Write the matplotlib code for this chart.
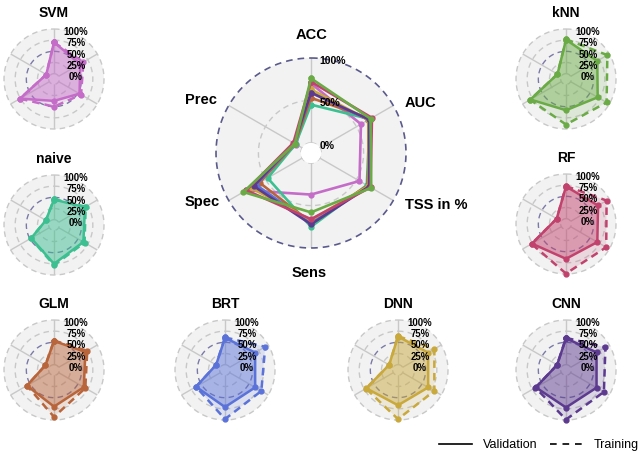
import matplotlib
matplotlib.use("Agg")
import matplotlib.pyplot as plt
from matplotlib.lines import Line2D
from matplotlib.patches import Circle
import numpy as np

plt.rcParams['font.family'] = ['Liberation Sans', 'DejaVu Sans']

categories = ['ACC', 'AUC', 'TSS in %', 'Sens', 'Spec', 'Prec']
models = ['SVM', 'naive', 'GLM', 'BRT', 'DNN', 'CNN', 'RF', 'kNN']
colors = ['#c46cc8', '#3cbf91', '#b9653b', '#5b73d9', '#c9a83c', '#5c3a8f', '#c2426e', '#6aab46']

# validation scores in %, order of categories
val_svm = [70, 56, 54, 37, 76, 8]
val_naive = [45, 68, 64, 75, 47, 9]
val_glm = [53, 69, 65, 70, 58, 10]
val_brt = [60, 66, 66, 71, 63, 11]
val_dnn = [63, 66, 66, 67, 70, 11]
val_cnn = [59, 67, 67, 72, 66, 11]
val_rf = [72, 71, 69, 66, 76, 12]
val_knn = [76, 69, 70, 58, 80, 10]

# training scores in %
tr_svm = [70, 64, 58, 50, 76, 8]
tr_naive = [46, 70, 67, 78, 48, 9]
tr_glm = [54, 74, 69, 93, 58, 10]
tr_brt = [61, 92, 82, 98, 63, 11]
tr_dnn = [64, 82, 82, 98, 71, 11]
tr_cnn = [60, 90, 86, 99, 67, 11]
tr_rf = [73, 93, 92, 99, 77, 12]
tr_knn = [77, 95, 93, 90, 81, 10]

validation = [val_svm, val_naive, val_glm, val_brt, val_dnn, val_cnn, val_rf, val_knn]
training = [tr_svm, tr_naive, tr_glm, tr_brt, tr_dnn, tr_cnn, tr_rf, tr_knn]

big_ticks = [100, 50, 0]
small_ticks = [100, 75, 50, 25, 0]

W, H = 640, 455
R0 = 12  # radial offset of the 0% ring
angles = np.linspace(0, 2 * np.pi, len(categories), endpoint=False)
closed = np.concatenate([angles, angles[:1]])
circ = np.linspace(0, 2 * np.pi, 300)

fig = plt.figure(figsize=(6.4, 4.55), dpi=100)


def make_radar(cx, cy, r, hole=True):
    ax = fig.add_axes([(cx - r) / W, 1 - (cy + r) / H, 2 * r / W, 2 * r / H], projection='polar')
    ax.set_theta_offset(np.pi / 2)
    ax.set_theta_direction(-1)
    ax.set_rorigin(-R0)
    ax.set_ylim(0, 100)
    ax.set_xticks([])
    ax.set_yticks([])
    ax.grid(False)
    # the inner spine gets switched back on at draw time, so hide its colour
    for s in ax.spines.values():
        s.set_edgecolor('none')
        s.set_visible(False)
    ax.patch.set_edgecolor('none')
    if hole:
        ax.set_facecolor('#f2f2f2')
    else:
        ax.set_facecolor('none')
        ax.add_patch(Circle((0.5, 0.5), 0.5, transform=ax.transAxes, clip_on=False,
                            facecolor='#f2f2f2', edgecolor='none', zorder=0))
    for a in angles:
        ax.plot([a, a], [0, 100], color='#c8c8c8', lw=1, zorder=1)
    return ax


def close(v):
    return np.concatenate([v, v[:1]])


# ---- big chart
bcx, bcy, br = 311, 153, 95
ax = make_radar(bcx, bcy, br)
ax.plot(circ, np.full_like(circ, 0), color='#c8c8c8', lw=1, ls=(0, (4, 3)), zorder=1)
ax.plot(circ, np.full_like(circ, 50), color='#c8c8c8', lw=1, ls=(0, (4, 3)), zorder=1)
ax.plot(circ, np.full_like(circ, 100), color='#5a5a8c', lw=1.2, ls=(0, (4, 3)), zorder=1, clip_on=False)
for m, c, v in zip(models, colors, validation):
    ax.plot(closed, close(np.array(v)), color=c, lw=1.9, marker='o', ms=3.5, zorder=3)
for t in big_ticks:
    frac = (t + R0) / (100 + R0)
    ax.text(0.545, 0.5 + (frac * br - 3) / (2 * br), f'{t}%', transform=ax.transAxes,
            ha='left', va='center', fontsize=7.5, fontweight='bold', zorder=5)

label_pos = [(1, -118, 'center'), (110, -50, 'center'), (94, 52, 'left'),
             (-2, 120, 'center'), (-109, 49, 'center'), (-110, -53, 'center')]
for lab, (dx, dy, ha) in zip(categories, label_pos):
    ax.text(0.5 + dx / (2 * br), 0.5 - dy / (2 * br), lab, transform=ax.transAxes,
            ha=ha, va='center', fontsize=10.5, fontweight='bold')

# ---- small charts
centers = {'SVM': (54, 79), 'naive': (54, 225), 'GLM': (54, 370),
           'BRT': (225, 370), 'DNN': (398, 370), 'CNN': (566, 370),
           'RF': (566, 224), 'kNN': (566, 79)}
sr = 50
for m, c, v, tr in zip(models, colors, validation, training):
    cx, cy = centers[m]
    ax = make_radar(cx, cy, sr, hole=False)
    for lev in [0, 25, 75, 100]:
        ax.plot(circ, np.full_like(circ, lev), color='#c8c8c8', lw=1, ls=(0, (4, 3)), zorder=1, clip_on=False)
    ax.plot(circ, np.full_like(circ, 50), color='#7a7aa8', lw=1, ls=(0, (4, 3)), zorder=1)
    tv = close(np.array(tr))
    vv = close(np.array(v))
    ax.fill(closed, tv, color=c, alpha=0.15, lw=0, zorder=2, clip_on=False)
    ax.fill(closed, vv, color=c, alpha=0.4, lw=0, zorder=2, clip_on=False)
    ax.plot(closed, tv, color=c, lw=1.8, ls=(0, (3, 2)), marker='o', ms=3.5, zorder=3, clip_on=False)
    ax.plot(closed, vv, color=c, lw=1.8, marker='o', ms=3.5, zorder=4, clip_on=False)
    for t in small_ticks:
        ax.text(0.72, 0.52 + 0.45 * t / 100, f'{t}%', transform=ax.transAxes,
                ha='center', va='center', fontsize=6.9, fontweight='bold', zorder=5)
    fig.text(cx / W, 1 - (cy - 66) / H, m, ha='center', va='center',
             fontsize=10, fontweight='bold')

handles = [Line2D([], [], color='k', lw=1.2),
           Line2D([], [], color='k', lw=1.2, ls=(0, (4, 3.5)))]
fig.legend(handles, ['Validation', 'Training'], loc='center right',
           bbox_to_anchor=(650 / W, 1 - 445 / H), ncol=2, frameon=False,
           fontsize=9, handlelength=2.6, columnspacing=1.0, handletextpad=0.9)

fig.savefig('out.png', dpi=100)
